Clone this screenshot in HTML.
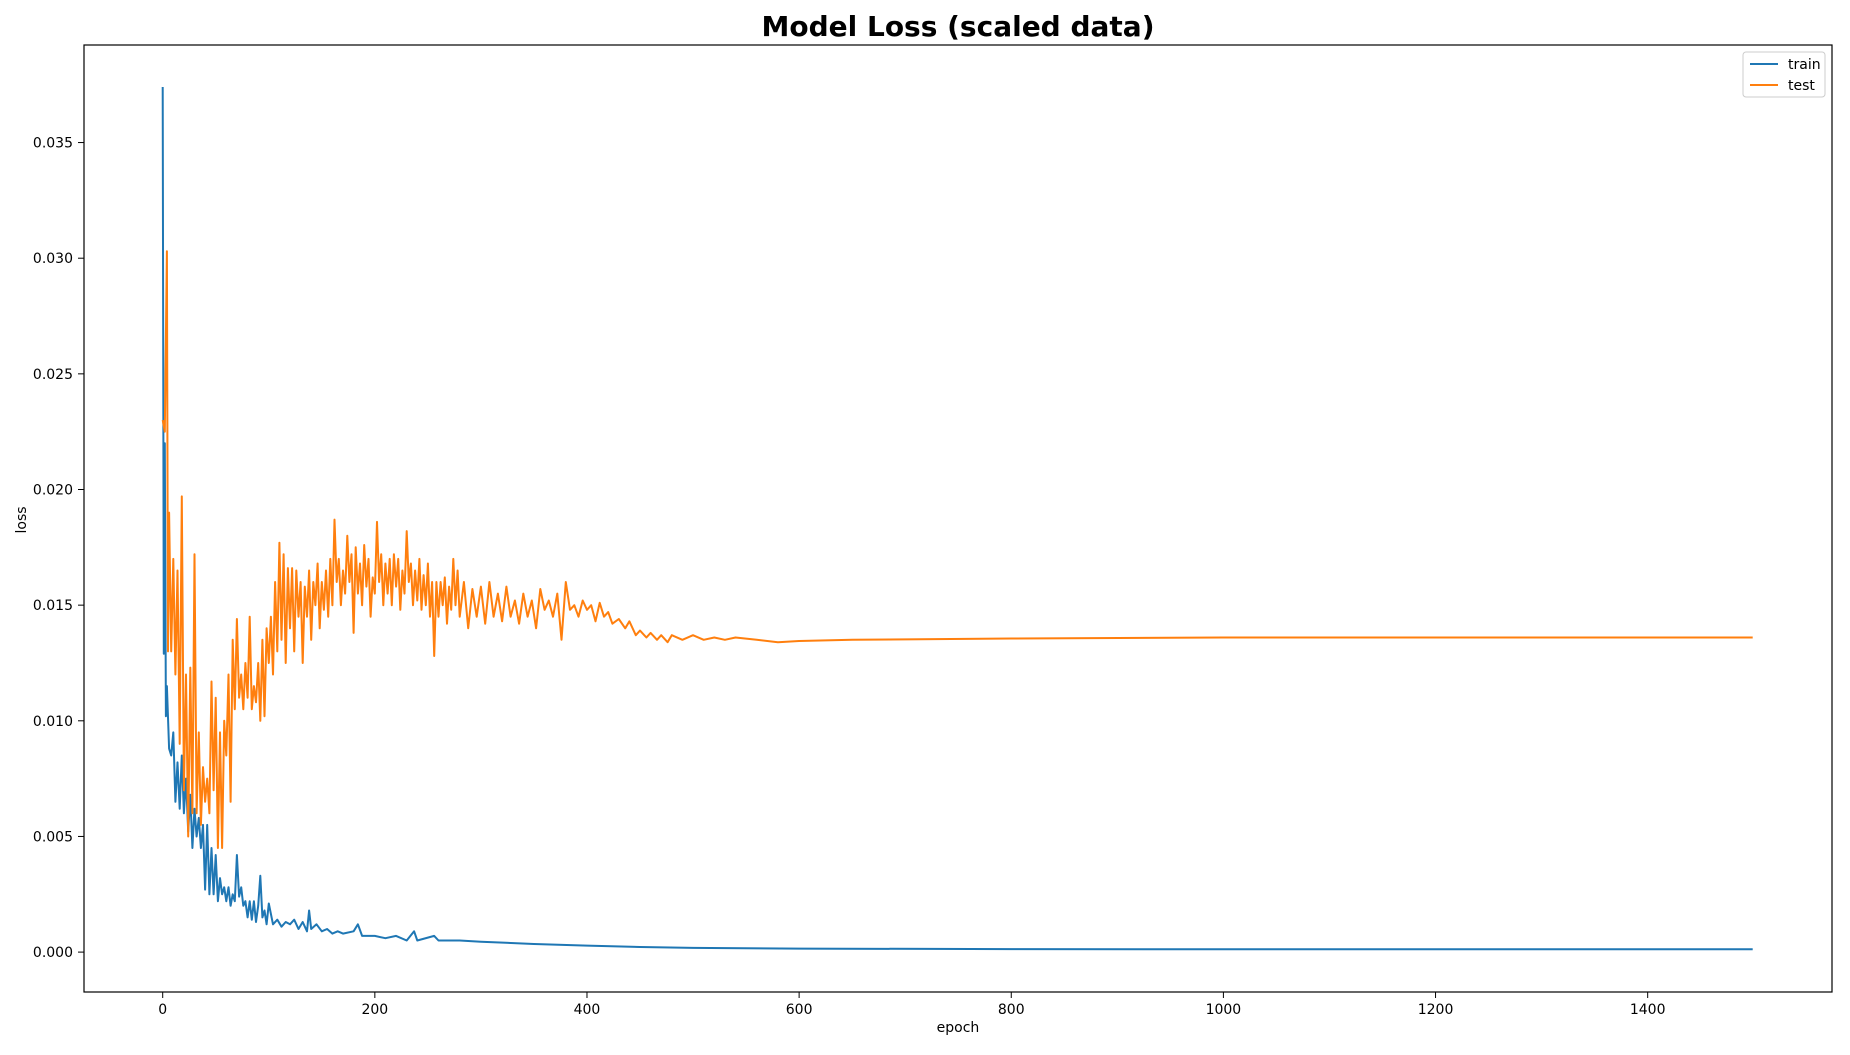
<!DOCTYPE html>
<html><head><meta charset="utf-8"><style>
body{margin:0;background:#fff;}
svg text{font-family:"DejaVu Sans","Liberation Sans",sans-serif;}
</style></head><body>
<svg id="chart" width="1850" height="1050" xmlns="http://www.w3.org/2000/svg">
<rect width="1850" height="1050" fill="#fff"/>
<text x="958" y="36" text-anchor="middle" font-size="28" font-weight="bold">Model Loss (scaled data)</text>
<g id="plot"></g>
<rect x="84" y="45" width="1748" height="947" fill="none" stroke="#000" stroke-width="1.2"/>
<text x="958" y="1032" text-anchor="middle" font-size="14">epoch</text>
<text transform="translate(26,520) rotate(-90)" text-anchor="middle" font-size="14">loss</text>
<g>
<rect x="1743" y="52" width="82" height="45" rx="3" fill="#fff" stroke="#ccc"/>
<line x1="1750" y1="64" x2="1778" y2="64" stroke="#1f77b4" stroke-width="2"/>
<text x="1788" y="69" font-size="14">train</text>
<line x1="1750" y1="85" x2="1778" y2="85" stroke="#ff7f0e" stroke-width="2"/>
<text x="1788" y="90" font-size="14">test</text>
</g>
</svg>
<script>
const xTicks=[0,200,400,600,800,1000,1200,1400];
const yTicks=[0.000,0.005,0.010,0.015,0.020,0.025,0.030,0.035];
const trainEpochs=[0,1,2,3,4,6,8,10,12,14,16,18,20,22,24,26,28,30,32,34,36,38,40,42,44,46,48,50,52,54,56,58,60,62,64,66,68,70,72,74,76,78,80,82,84,86,88,90,92,94,96,98,100,104,108,112,116,120,124,128,132,136,138,140,145,150,155,160,165,170,180,184,188,200,210,220,230,237,240,256,260,280,300,350,400,450,500,600,800,1000,1499];
const trainLoss=[0.0374,0.0129,0.022,0.0102,0.0115,0.0088,0.0085,0.0095,0.0065,0.0082,0.0062,0.0085,0.006,0.0075,0.0052,0.0068,0.0045,0.0062,0.005,0.0058,0.0045,0.0055,0.0027,0.0055,0.0025,0.0045,0.0025,0.0042,0.0022,0.0032,0.0025,0.0028,0.0022,0.0028,0.002,0.0025,0.0022,0.0042,0.0024,0.0028,0.002,0.0022,0.0015,0.0022,0.0014,0.0022,0.0013,0.002,0.0033,0.0015,0.0018,0.0012,0.0021,0.0012,0.0014,0.0011,0.0013,0.0012,0.0014,0.001,0.0013,0.0009,0.0018,0.001,0.0012,0.0009,0.001,0.0008,0.0009,0.0008,0.0009,0.0012,0.0007,0.0007,0.0006,0.0007,0.0005,0.0009,0.0005,0.0007,0.0005,0.0005,0.00045,0.00035,0.00028,0.00022,0.00018,0.00015,0.00013,0.00012,0.00012];
const testEpochs=[0,2,4,5,6,8,10,12,14,16,18,20,22,24,26,28,30,32,34,36,38,40,42,44,46,48,50,52,54,56,58,60,62,64,66,68,70,72,74,76,78,80,82,84,86,88,90,92,94,96,98,100,102,104,106,108,110,112,114,116,118,120,122,124,126,128,130,132,134,136,138,140,142,144,146,148,150,152,154,156,158,160,162,164,166,168,170,172,174,176,178,180,182,184,186,188,190,192,194,196,198,200,202,204,206,208,210,212,214,216,218,220,222,224,226,228,230,232,234,236,238,240,242,244,246,248,250,252,254,256,258,260,262,264,266,268,270,272,274,276,278,280,284,288,292,296,300,304,308,312,316,320,324,328,332,336,340,344,348,352,356,360,364,368,372,376,380,384,388,392,396,400,404,408,412,416,420,424,430,436,440,446,450,456,460,466,470,476,480,490,500,510,520,530,540,560,580,600,650,700,800,1000,1499];
const testLoss=[0.023,0.0225,0.0303,0.013,0.019,0.013,0.017,0.012,0.0165,0.009,0.0197,0.007,0.012,0.005,0.0123,0.006,0.0172,0.006,0.0095,0.0055,0.008,0.0065,0.0075,0.006,0.0117,0.007,0.011,0.0045,0.0095,0.0045,0.01,0.0085,0.012,0.0065,0.0135,0.0105,0.0144,0.011,0.012,0.0105,0.0125,0.011,0.0145,0.0105,0.0115,0.0108,0.0125,0.01,0.0135,0.0102,0.014,0.0125,0.0145,0.012,0.016,0.013,0.0177,0.0135,0.0172,0.0125,0.0166,0.014,0.0166,0.013,0.0165,0.0145,0.016,0.0125,0.0158,0.0145,0.0165,0.0135,0.016,0.015,0.0168,0.014,0.016,0.0148,0.0165,0.0145,0.017,0.015,0.0187,0.016,0.017,0.015,0.0165,0.0155,0.018,0.016,0.0172,0.0138,0.0175,0.0155,0.0168,0.015,0.0176,0.0158,0.017,0.0145,0.0162,0.0155,0.0186,0.016,0.0172,0.015,0.0168,0.0155,0.017,0.015,0.0172,0.0158,0.017,0.0148,0.0165,0.0155,0.0182,0.016,0.0168,0.015,0.0165,0.0152,0.017,0.0148,0.0163,0.015,0.0168,0.0145,0.016,0.0128,0.016,0.0145,0.016,0.015,0.0162,0.0142,0.0158,0.0148,0.017,0.015,0.0165,0.0145,0.016,0.014,0.0157,0.0145,0.0158,0.0142,0.016,0.0145,0.0155,0.0143,0.0158,0.0145,0.0152,0.0142,0.0155,0.0145,0.0152,0.014,0.0157,0.0148,0.0152,0.0145,0.0155,0.0135,0.016,0.0148,0.015,0.0145,0.0152,0.0148,0.015,0.0143,0.0151,0.0145,0.0147,0.0142,0.0144,0.014,0.0143,0.0137,0.0139,0.0136,0.0138,0.0135,0.0137,0.0134,0.0137,0.0135,0.0137,0.0135,0.0136,0.0135,0.0136,0.0135,0.0134,0.01345,0.0135,0.01352,0.01356,0.0136,0.0136];
const NS='http://www.w3.org/2000/svg';
const X=v=>162.7+v*1.0607;
const Y=v=>952.1-v*23130;
const svg=document.getElementById('chart');
const g=document.getElementById('plot');
function mk(t,a,parent){const e=document.createElementNS(NS,t);for(const k in a)e.setAttribute(k,a[k]);(parent||svg).appendChild(e);return e;}
xTicks.forEach(v=>{
  const l=mk('line',{x1:X(v),x2:X(v),y1:992,y2:998,stroke:'#000'});
  
  
  const t=mk('text',{x:X(v),y:1014,'text-anchor':'middle','font-size':14});
  
  
  t.textContent=v;
});
yTicks.forEach(v=>{
  const l=mk('line',{x1:78,x2:84,y1:Y(v),y2:Y(v),stroke:'#000'});
  
  
  const t=mk('text',{x:73,y:Y(v)+5,'text-anchor':'end','font-size':14});
  
  
  t.textContent=v.toFixed(3);
});
function line(xs,ys,color,name){
  const d=xs.map((x,i)=>(i?'L':'M')+X(x).toFixed(1)+' '+Y(ys[i]).toFixed(1)).join(' ');
  const p=mk('path',{d:d,fill:'none',stroke:color,'stroke-width':2,'stroke-linejoin':'round'},g);
  
  
}
line(trainEpochs,trainLoss,'#1f77b4','train-line');
line(testEpochs,testLoss,'#ff7f0e','test-line');
</script>
</body></html>
